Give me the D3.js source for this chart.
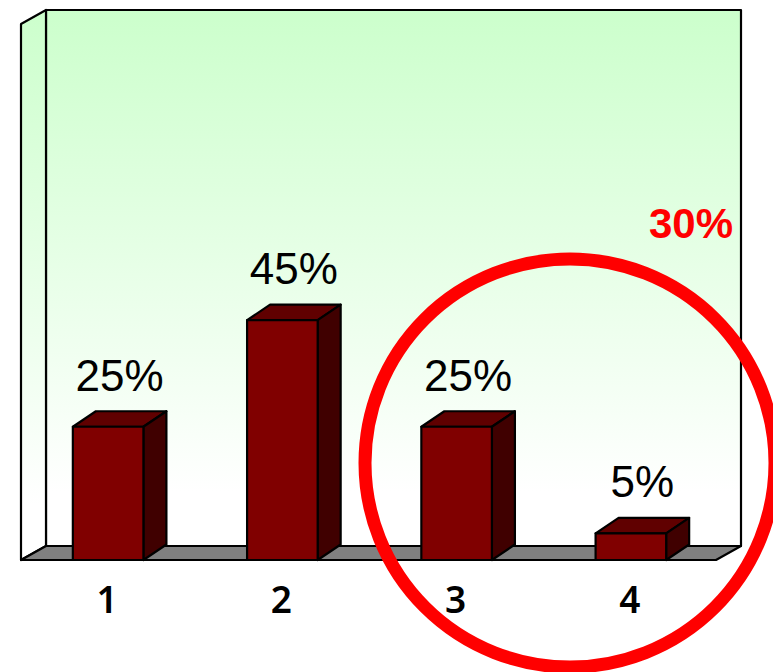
<!DOCTYPE html>
<html>
<head>
<meta charset="utf-8">
<script src="https://cdn.jsdelivr.net/npm/d3@7"></script>
<style>
  html, body { margin: 0; padding: 0; background: #fff; }
  svg { display: block; }
</style>
</head>
<body>
<svg id="root" width="773" height="672" viewBox="0 0 773 672" xmlns="http://www.w3.org/2000/svg"></svg>
<script>
var categories = ['1', '2', '3', '4'];
var values = [25, 45, 25, 5];
var valueLabels = ['25%', '45%', '25%', '5%'];
var calloutLabel = '30%';

var floorY = 560, wallTop = 24;
var left = 21, right = 716;
var depthX = 25, depthY = 14;   // depth of the chart box
var barDepthX = 23, barDepthY = 15.5;

var svg = d3.select('#root');

var x = d3.scaleBand().domain(categories).range([left, right + 2]).paddingInner(0.595).paddingOuter(0.2975);
var y = d3.scaleLinear().domain([0, 100]).range([floorY, 27]);

var grad = svg.append('defs').append('linearGradient')
  .attr('id', 'wall')
  .attr('x1', 0).attr('y1', 0).attr('x2', 0).attr('y2', 1);
grad.append('stop').attr('offset', '0%').attr('stop-color', '#ccffcc');
grad.append('stop').attr('offset', '90%').attr('stop-color', '#ffffff');

function poly(points, fill) {
  return svg.append('polygon')
    .attr('points', points.map(function(p) { return p.join(','); }).join(' '))
    .attr('fill', fill)
    .attr('stroke', '#000')
    .attr('stroke-width', 2.2)
    .attr('stroke-linejoin', 'round');
}

// chart box: back wall, left wall, floor
poly([[left + depthX, wallTop - depthY], [right + depthX, wallTop - depthY],
      [right + depthX, floorY - depthY], [left + depthX, floorY - depthY]], 'url(#wall)');
poly([[left, wallTop], [left + depthX, wallTop - depthY],
      [left + depthX, floorY - depthY], [left, floorY]], 'url(#wall)');
poly([[left, floorY], [left + depthX, floorY - depthY],
      [right + depthX, floorY - depthY], [right, floorY]], '#808080');

// bars
categories.forEach(function(c, i) {
  var x0 = x(c), x1 = x0 + x.bandwidth(), t = y(values[i]);
  poly([[x0, t], [x0 + barDepthX, t - barDepthY], [x1 + barDepthX, t - barDepthY], [x1, t]], '#600000');
  poly([[x1, t], [x1 + barDepthX, t - barDepthY], [x1 + barDepthX, floorY - barDepthY], [x1, floorY]], '#400000');
  poly([[x0, t], [x1, t], [x1, floorY], [x0, floorY]], '#800000');
});

// value labels
svg.selectAll('.value')
  .data(values)
  .enter()
  .append('text')
    .attr('class', 'value')
    .attr('x', function(d, i) { return x(categories[i]) + x.bandwidth() / 2 + barDepthX / 2; })
    .attr('y', function(d) { return y(d) - barDepthY - 20.5; })
    .attr('text-anchor', 'middle')
    .style('font-family', '"Liberation Sans", Arial, sans-serif')
    .style('font-size', '44px')
    .attr('fill', '#000')
    .text(function(d, i) { return valueLabels[i]; });

// category labels
var axis = d3.axisBottom(x).tickSize(0).tickPadding(0);
var axisG = svg.append('g')
  .attr('transform', 'translate(-1,' + 587 + ')')
  .call(axis);
axisG.select('.domain').remove();
axisG.selectAll('text')
  .attr('fill', '#000')
  .style('font-family', '"Noto Sans", sans-serif')
  .style('font-weight', 600)
  .style('font-size', '37px');

// callout
svg.append('text')
  .attr('x', 691).attr('y', 238)
  .attr('text-anchor', 'middle')
  .style('font-family', '"Liberation Sans", Arial, sans-serif')
  .style('font-size', '42px')
  .style('font-weight', 'bold')
  .attr('fill', '#ff0000')
  .text(calloutLabel);

svg.append('ellipse')
  .attr('cx', 570).attr('cy', 463)
  .attr('rx', 205).attr('ry', 204)
  .attr('fill', 'none')
  .attr('stroke', '#ff0000')
  .attr('stroke-width', 13);
</script>
</body>
</html>
